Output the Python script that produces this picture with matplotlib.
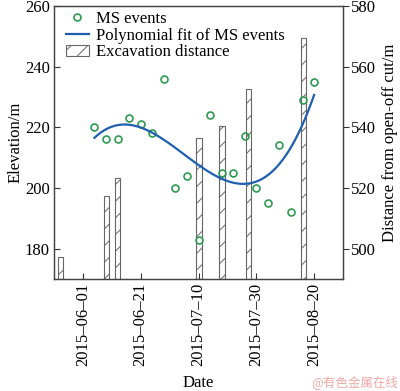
import numpy as np
import matplotlib
matplotlib.use("Agg")
import matplotlib.pyplot as plt

plt.rcParams['font.family'] = ['Liberation Serif', 'DejaVu Serif']
plt.rcParams['hatch.linewidth'] = 0.7
plt.rcParams['hatch.color'] = '#555555'

# event index (day offset, 0 = 2015-06-01, uniform spacing on the drawn axis)
ms_x = [4, 8, 12, 16, 20, 24, 28, 32, 36, 40, 44, 48, 52, 56, 60, 64, 68, 72, 76, 80]
ms_elev = [220, 216, 216, 223, 221, 218, 236, 200, 204, 183,
           224, 205, 205, 217, 200, 195, 214, 192, 229, 235]

bar_x = [-7.8, 8.2, 12.0, 40.2, 48.1, 57.4, 76.2]
bar_dist = [497.3, 517.4, 523.4, 536.5, 540.5, 552.5, 569.4]

tick_pos = [0, 20, 40, 60, 80]
tick_labels = ['2015\u201306\u201301', '2015\u201306\u201321', '2015\u201307\u201310',
               '2015\u201307\u201330', '2015\u201308\u201320']

c_pt = '#2e9a50'
c_line = '#1f5fb0'
fs = 12

fig = plt.figure(figsize=(4.0, 3.91), dpi=100)
ax = fig.add_axes([0.135, 0.2864, 0.7225, 0.6986])
ax2 = ax.twinx()

# bars on the right axis, drawn behind
bars = ax2.bar(bar_x, [d - 490 for d in bar_dist], bottom=490, width=1.8,
               color='white', edgecolor='#666666', linewidth=0.8, hatch='//',
               label='Excavation distance')
ax2.set_ylim(490, 580)
ax2.set_yticks([500, 520, 540, 560, 580])
ax2.set_ylabel('Distance from open-off cut/m', fontsize=fs, labelpad=4)

ax.set_zorder(ax2.get_zorder() + 1)
ax.patch.set_visible(False)

pts, = ax.plot(ms_x, ms_elev, 'o', mfc='none', mec=c_pt, ms=5, mew=1.2,
               label='MS events')
coef = np.polyfit(ms_x, ms_elev, 3)
xs = np.linspace(ms_x[0], ms_x[-1], 200)
fit, = ax.plot(xs, np.polyval(coef, xs), '-', color=c_line, lw=1.6,
               label='Polynomial fit of MS events')

ax.set_xlim(-10, 90)
ax.set_ylim(170, 260)
ax.set_yticks([180, 200, 220, 240, 260])
ax.set_xticks(tick_pos)
ax.set_xticklabels(tick_labels, rotation=90)
ax.set_ylabel('Elevation/m', fontsize=fs, labelpad=1)
ax.set_xlabel('Date', fontsize=fs, labelpad=6)

ax.tick_params(direction='in', length=4, labelsize=fs, color='#333333', pad=3)
ax2.tick_params(direction='out', length=4, labelsize=fs, color='#333333', pad=2)
for a in (ax, ax2):
    for s in a.spines.values():
        s.set_color('#444444')
        s.set_linewidth(0.9)

ax.legend([pts, fit, bars], ['MS events', 'Polynomial fit of MS events', 'Excavation distance'],
          loc='upper left', bbox_to_anchor=(0.0, 1.025), frameon=False, fontsize=fs,
          handlelength=1.4, handletextpad=0.4, labelspacing=0.05, borderpad=0.2)

fig.text(0.995, 0.005, '@有色金属在线', ha='right', va='bottom', fontsize=9,
         color='#f0a8a8', family=['Noto Sans CJK SC', 'DejaVu Sans'])

fig.savefig('out.png', dpi=100)
